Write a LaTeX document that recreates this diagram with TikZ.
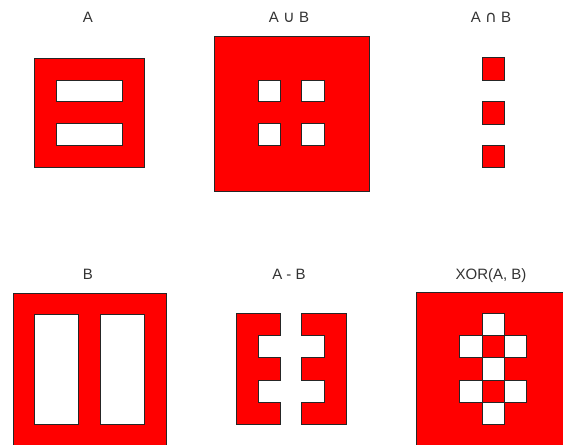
\documentclass[tikz,border=0pt]{standalone}
\usepackage{fontspec}
\setmainfont{Liberation Sans}
\newfontfamily\symfont{DejaVu Sans}
\begin{document}
\begin{tikzpicture}[x=1pt,y=-1pt,
  shapefill/.style={fill=red,draw=black!85,line width=0.9pt,even odd rule},
  hole/.style={fill=white,draw=black!85,line width=0.9pt},
  cell/.style={fill=red,draw=black!85,line width=0.9pt},
  lbl/.style={anchor=base,inner sep=0pt,font=\fontsize{15}{18}\selectfont,text=black!80}]
\useasboundingbox (0,0) rectangle (563,445);
\clip (0,0) rectangle (563,445);
% labels
\node[lbl] (la) at (88,22.5) {A};
\node[lbl] (lu) at (289,22.5) {A {\symfont\fontsize{16}{18}\selectfont ∪} B};
\node[lbl] (li) at (491,22.5) {A {\symfont\fontsize{16}{18}\selectfont ∩} B};
\node[lbl] (lb) at (88,279.5) {B};
\node[lbl] (ld) at (289,279.5) {A - B};
\node[lbl] (lx) at (491,279.5) {XOR(A, B)};
% A
\path[shapefill] (34,58) rectangle (144,167)
  (56.7,80) rectangle (122.3,101.7)
  (56.7,123.7) rectangle (122.3,145.3);
% A union B
\path[shapefill] (214,36) rectangle (369,191)
  (258.3,80) rectangle (280.3,101.7)
  (301.7,80) rectangle (324.3,101.7)
  (258.3,123.7) rectangle (280.3,145.3)
  (301.7,123.7) rectangle (324.3,145.3);
% A intersect B
\path[cell] (482,57.7) rectangle (504,80);
\path[cell] (482,101.3) rectangle (504,124);
\path[cell] (482,145) rectangle (504,167.3);
% B
\path[shapefill] (13,293) rectangle (166,447)
  (34.7,314.7) rectangle (78.3,424)
  (100.3,314.7) rectangle (144,424);
% A - B
\path[shapefill] (236,313) -- (280.3,313) -- (280.3,335.7) -- (258.3,335.7) -- (258.3,357.3)
  -- (280.3,357.3) -- (280.3,380) -- (258.3,380) -- (258.3,402) -- (280.3,402)
  -- (280.3,424.3) -- (236,424.3) -- cycle;
\path[shapefill] (346,313) -- (301.7,313) -- (301.7,335.7) -- (324.3,335.7) -- (324.3,357.3)
  -- (301.7,357.3) -- (301.7,380) -- (324.3,380) -- (324.3,402) -- (301.7,402)
  -- (301.7,424.3) -- (346,424.3) -- cycle;
% XOR
\path[cell] (416,292) rectangle (570,447);
\path[hole] (482,313.3) rectangle (504,335.3);
\path[hole] (459.7,335.3) rectangle (482,357.3);
\path[cell] (482,335.3) rectangle (504,357.3);
\path[hole] (504,335.3) rectangle (526,357.3);
\path[hole] (482,357.3) rectangle (504,380);
\path[hole] (459.7,380) rectangle (482,402);
\path[cell] (482,380) rectangle (504,402);
\path[hole] (504,380) rectangle (526,402);
\path[hole] (482,402) rectangle (504,424);
\end{tikzpicture}
\end{document}
